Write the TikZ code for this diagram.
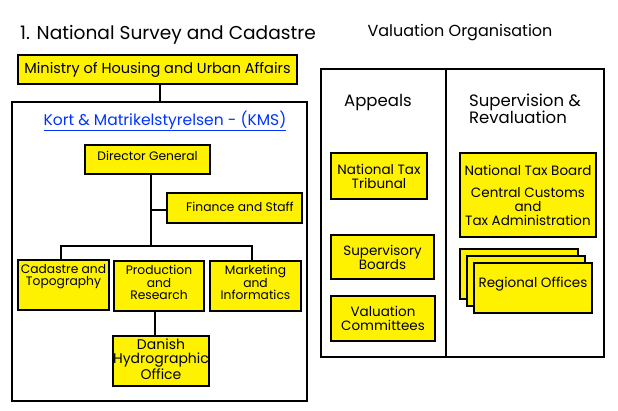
\documentclass[tikz,border=0pt]{standalone}
\usepackage{fontspec}
\setmainfont{Poppins}
\begin{document}
\begin{tikzpicture}[x=1pt,y=-1pt,
  box/.style={draw=black,line width=1.8pt,fill=yellow},
  frame/.style={draw=black,line width=1.8pt},
  con/.style={draw=black,line width=1.8pt},
  lbl/.style={font=\fontsize{12.3}{12.5}\selectfont,align=center,inner sep=0pt}]
\useasboundingbox (0,0) rectangle (618,411);
\node[anchor=west,inner sep=0pt,font=\fontsize{18.6}{20}\selectfont] (title) at (20,35) {1. National Survey and Cadastre};
\node[inner sep=0pt,font=\fontsize{16}{18}\selectfont] (vo) at (460,33) {Valuation Organisation};
% left
\draw[box] (18,55) rectangle (297,84);
\node[inner sep=0pt,font=\fontsize{14.5}{16}\selectfont] (min) at (157.5,69.5) {Ministry of Housing and Urban Affairs};
\draw[frame] (12,102) rectangle (307,401);
\draw[con] (160,84) -- (160,102);
\node[inner sep=0pt,font=\fontsize{15.5}{17}\selectfont,text=blue!80!cyan] (kms) at (165,121) {\underline{Kort \& Matrikelstyrelsen - (KMS)}};
\draw[con] (151,174) -- (151,246);
\draw[con] (151,210) -- (167,210);
\draw[con] (61,260) -- (61,246) -- (252,246) -- (252,261);
\draw[con] (155,311) -- (155,336);
\draw[box] (85,145) rectangle (210,174);
\node[lbl] (dg) at (147.5,156) {Director General};
\draw[box] (167,193) rectangle (302,223);
\node[lbl] (fs) at (240,207) {Finance and Staff};
\draw[box] (18,260) rectangle (109,310);
\node[lbl,anchor=north] (cad) at (63.5,264) {Cadastre and\\Topography};
\draw[box] (114,261) rectangle (204,311);
\node[lbl,anchor=north] (pr) at (159,265) {Production\\and\\Research};
\draw[box] (210,261) rectangle (301,311);
\node[lbl,anchor=north] (mi) at (255.5,265) {Marketing\\and\\Informatics};
\draw[box] (113,336) rectangle (209,386);
\node[lbl,anchor=north,font=\fontsize{14}{14}\selectfont] (dh) at (161,339) {Danish\\Hydrographic\\Office};
% right
\draw[frame] (321,69) rectangle (604,357);
\draw[con] (446,69) -- (446,357);
\node[anchor=north west,inner sep=0pt,font=\fontsize{16.5}{17}\selectfont] (ap) at (344,94) {Appeals};
\node[anchor=north west,inner sep=0pt,align=left,font=\fontsize{16.5}{17}\selectfont] (sr) at (469,94) {Supervision \&\\Revaluation};
\draw[box] (331,153) rectangle (427,199);
\node[lbl,font=\fontsize{13.5}{14}\selectfont] (ntt) at (379,176) {National Tax\\Tribunal};
\draw[box] (331,235) rectangle (434,279);
\node[lbl,font=\fontsize{13.5}{14}\selectfont] (sb) at (382.5,257) {Supervisory\\Boards};
\draw[box] (331,296) rectangle (435,341);
\node[lbl,font=\fontsize{13.5}{14}\selectfont] (vc) at (383,318.5) {Valuation\\Committees};
\draw[box] (460,153) rectangle (596,237);
\node[lbl,font=\fontsize{13.5}{14}\selectfont] (ntb) at (528,195) {National Tax Board\\[8pt]Central Customs\\and\\Tax Administration};
\draw[box] (460,249) rectangle (578,299);
\draw[box] (467,256) rectangle (585,306);
\draw[box] (474,263) rectangle (592,313);
\node[lbl,font=\fontsize{13.5}{14}\selectfont] (ro) at (533,284) {Regional Offices};
\end{tikzpicture}
\end{document}
